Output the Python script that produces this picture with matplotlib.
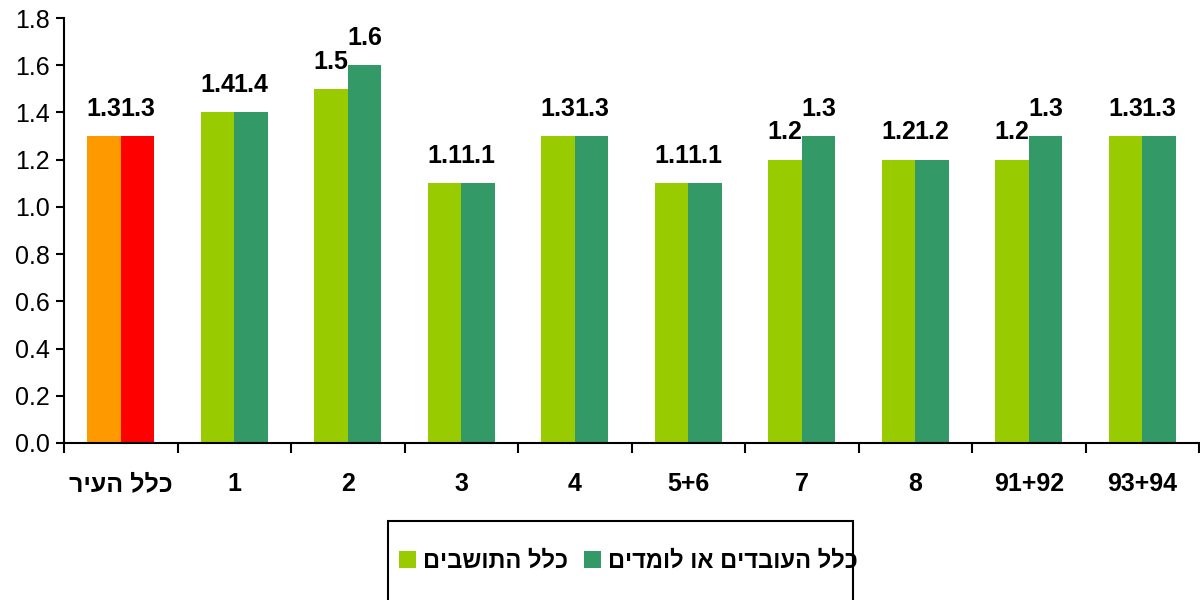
import matplotlib
matplotlib.use("Agg")
import matplotlib.pyplot as plt
from matplotlib.patches import Patch, Rectangle
import numpy as np

plt.rcParams['font.family'] = ['Liberation Sans', 'DejaVu Sans']

# Hebrew strings are stored in logical order; matplotlib has no bidi support,
# so they are reversed into visual order when drawn.
categories = ["כלל העיר", "1", "2", "3", "4", "5+6", "7", "8", "91+92", "93+94"]
residents = [1.3, 1.4, 1.5, 1.1, 1.3, 1.1, 1.2, 1.2, 1.2, 1.3]
workers = [1.3, 1.4, 1.6, 1.1, 1.3, 1.1, 1.3, 1.2, 1.3, 1.3]
series_names = ["כלל התושבים", "כלל העובדים או לומדים"]
y_ticks = [0.0, 0.2, 0.4, 0.6, 0.8, 1.0, 1.2, 1.4, 1.6, 1.8]


def visual(s):
    return s[::-1] if any('\u0590' <= ch <= '\u05ff' for ch in s) else s


light_green = "#99CC00"
dark_green = "#339966"
res_colors = ["#FF9900"] + [light_green] * (len(categories) - 1)
wrk_colors = ["#FF0000"] + [dark_green] * (len(categories) - 1)

fig = plt.figure(figsize=(12, 6), dpi=100)
ax = fig.add_axes([64 / 1200, 1 - 443 / 600, 1 - 64 / 1200 - 0.0008, (443 - 18) / 600])

x = np.arange(len(categories))
w = 0.295
b1 = ax.bar(x - w / 2, residents, w, color=res_colors, linewidth=0)
b2 = ax.bar(x + w / 2, workers, w, color=wrk_colors, linewidth=0)

for bars, vals in ((b1, residents), (b2, workers)):
    for rect, v in zip(bars, vals):
        ax.annotate(f"{v:.1f}", (rect.get_x() + rect.get_width() / 2, v),
                    xytext=(0, 11), textcoords="offset points",
                    ha="center", va="bottom", fontsize=18, fontweight="bold")

ax.set_xlim(-0.5, len(categories) - 0.5)
ax.set_ylim(0, 1.8)
ax.set_yticks(y_ticks)
ax.set_yticklabels([f"{t:.1f}" for t in y_ticks], fontsize=18)
ax.set_xticks(x)
ax.set_xticklabels([visual(c) for c in categories], fontsize=18, fontweight="bold")
ax.set_xticks(np.arange(-0.5, len(categories)), minor=True)
ax.tick_params(axis="x", which="major", length=0, pad=21)
ax.tick_params(axis="x", which="minor", length=7, width=1.5, direction="out")
ax.tick_params(axis="y", length=6, width=1.5, direction="out", pad=4)

for side in ("top", "right"):
    ax.spines[side].set_visible(False)
for side in ("left", "bottom"):
    ax.spines[side].set_linewidth(1.5)

# legend box, open at the bottom edge of the figure
fig.patches.append(Rectangle((388 / 1200, -0.05), (853 - 388) / 1200, 0.05 + 1 - 521 / 600,
                             transform=fig.transFigure, fill=False,
                             edgecolor="black", linewidth=1.5))
handles = [Patch(facecolor=light_green), Patch(facecolor=dark_green)]
fig.legend(handles, [visual(s) for s in series_names], ncol=2,
           loc="center left", bbox_to_anchor=(378 / 1200, 1 - 561 / 600),
           frameon=False, handlelength=0.7, handleheight=0.7,
           handletextpad=0.3, columnspacing=0.7,
           prop={"size": 17, "weight": "bold"})

fig.savefig("out.png", dpi=100)
